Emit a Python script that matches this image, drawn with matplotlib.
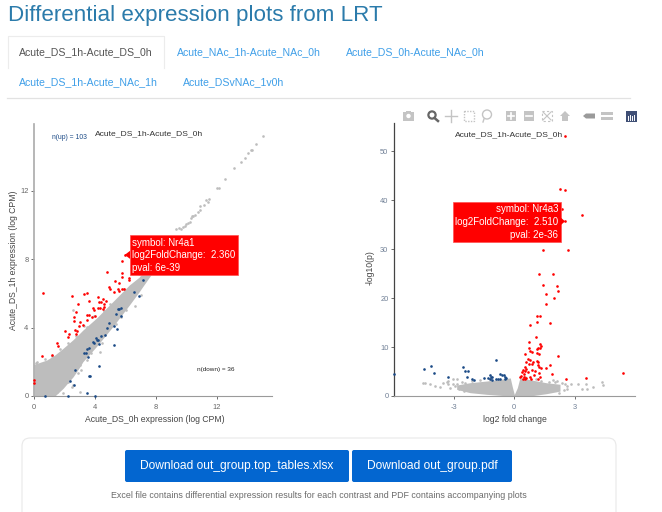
#!/usr/bin/env python3
# -*- coding: utf-8 -*-
"""
Differential expression page: MA-style scatter and volcano plot with
the tab bar, plot toolbar and download panel around them.
Output: out.png
"""

import matplotlib
matplotlib.use("Agg")
import matplotlib.pyplot as plt
from matplotlib.patches import Rectangle, FancyBboxPatch, Polygon, Circle

plt.rcParams['font.family'] = ['Liberation Sans', 'DejaVu Sans']
plt.rcParams['axes.unicode_minus'] = False

FIG_W, FIG_H = 662, 512

PAGE_TITLE = "Differential expression plots from LRT"
PLOT_TITLE = "Acute_DS_1h-Acute_DS_0h"
TABS = ["Acute_DS_1h-Acute_DS_0h", "Acute_NAc_1h-Acute_NAc_0h", "Acute_DS_0h-Acute_NAc_0h",
        "Acute_DS_1h-Acute_NAc_1h", "Acute_DSvNAc_1v0h"]

# expression scatter: dense cloud outline
cloud_x = [0.0, 0.83, 1.37, 1.91, 2.57, 3.0, 3.2, 4.09, 5.17, 6.26, 6.9, 7.13, 8.0, 9.2]
cloud_low = [0.0, 0.0, 0.0, 0.45, 1.13, 1.7, 2.0, 2.89, 4.06, 5.33, 6.1, 6.4, 7.5, 9.05]
cloud_high = [1.85, 2.1, 2.4, 2.79, 3.3, 3.67, 3.85, 4.55, 5.52, 6.5, 6.95, 7.25, 8.2, 9.4]

# expression scatter: grey genes outside the dense cloud
scatter_grey_x = [9.32, 9.5, 9.65, 9.75, 9.87, 9.98, 10.1, 10.2, 10.3, 10.37, 10.45, 10.55, 10.77, 10.85,
                  10.9, 11.17, 11.3, 11.4, 11.47,
                  12.0, 12.1, 12.5, 13.14, 13.57, 13.8, 14.0, 14.2, 14.3, 14.55, 15.0,
                  2.57, 2.89, 3.1, 3.76, 4.3, 5.6, 5.7, 2.57, 0.72, 1.91, 3.04, 2.46, 0.5, 2.13,
                  3.0, 3.45, 0.2, 1.2, 1.7, 2.25, 2.75, 3.5, 4.6, 5.0, 5.9, 6.6, 7.0, 1.5, 2.2,
                  3.3, 3.95, 4.45, 5.35, 6.05, 0.1, 7.3, 6.85]
scatter_grey_y = [9.79, 9.8, 9.79, 9.9, 9.94, 10.06, 10.1, 10.2, 10.38, 10.5, 10.55, 10.6, 10.76, 10.88,
                  11.1, 11.17, 11.46, 11.35, 11.5,
                  12.15, 12.15, 12.67, 13.3, 13.67, 13.9, 14.2, 14.4, 14.4, 14.74, 15.2,
                  0.64, 1.33, 1.52, 2.5, 2.6, 4.84, 4.64, 5.0, 2.15, 0.16, 0.21, 0.55, 1.81, 1.03,
                  1.81, 2.1, 2.0, 2.35, 2.75, 3.1, 3.5, 4.05, 4.95, 5.4, 6.25, 5.25, 5.9, 0.25, 0.8,
                  4.1, 4.65, 3.1, 4.2, 5.05, 1.95, 7.3, 7.15]

scatter_up_x = [0.59, 2.52, 3.3, 3.48, 2.91, 2.74, 2.63, 2.63, 2.04, 2.3, 2.2, 1.5, 1.6, 0.5, 1.2,
                2.67, 2.85, 2.76, 3.04, 2.98, 3.22, 3.46, 3.46, 3.63, 3.63, 3.87, 3.96, 4.2, 4.4,
                4.17, 4.3, 4.24, 4.5, 4.72, 4.61, 4.61, 4.78, 5.33, 5.54, 4.93, 4.98, 5.26, 5.5,
                5.59, 5.76, 5.91, 5.74, 5.74, 5.74, 5.95, 6.24, 6.24, 0.0, 0.0, 3.8, 4.0, 4.55]
scatter_up_y = [6.0, 5.87, 5.99, 6.03, 5.4, 4.9, 4.59, 4.39, 3.79, 3.63, 3.43, 3.08, 2.95, 2.32, 2.38,
                3.86, 3.82, 3.63, 4.31, 4.08, 4.16, 4.45, 4.74, 4.74, 5.54, 5.17, 5.03, 5.76, 5.52,
                5.13, 5.13, 5.48, 5.66, 5.58, 5.39, 5.19, 7.26, 6.71, 6.6, 6.36, 6.24, 6.09, 6.26,
                6.11, 6.24, 6.24, 7.18, 6.98, 7.92, 8.25, 6.89, 6.79, 0.94, 0.78, 4.6, 4.65, 5.1]

scatter_down_x = [7.15, 6.57, 6.89, 5.59, 5.37, 5.7, 4.93, 4.78, 5.26, 5.41, 5.26, 4.63, 4.39, 4.09,
                  4.28, 3.85, 3.59, 3.41, 3.52, 4.28, 3.59, 3.65, 2.67, 2.39, 2.63, 3.48, 4.02, 2.22,
                  0.7, 5.7, 4.2, 3.3, 5.5, 4.15, 3.95, 3.45]
scatter_down_y = [6.79, 6.07, 5.83, 5.11, 4.82, 4.66, 4.27, 4.0, 4.1, 3.92, 2.99, 3.57, 3.51, 3.38,
                  3.04, 3.18, 2.83, 2.54, 2.3, 1.78, 1.19, 1.19, 1.52, 0.9, 0.64, 0.2, 0.0, 0.0,
                  0.0, 5.15, 3.3, 2.5, 5.1, 3.25, 3.1, 2.75]

# volcano: dense lobes either side of zero
lobe_x = [-2.85, -2.19, -1.37, -0.71, -0.2, -0.1, 0.0, 0.15, 0.28, 0.94, 1.6, 2.26]
lobe_low = [1.36, 0.68, 0.34, 0.14, 0.0, 0.0, 0.0, 0.0, 0.0, 0.1, 0.48, 1.0]
lobe_high = [2.24, 2.72, 3.06, 3.4, 3.7, 1.9, 0.3, 1.7, 3.74, 3.2, 2.7, 2.4]

volcano_grey_x = [-4.53, -4.41, -4.17, -3.92, -3.67, -3.54, -3.26, -3.01, -2.82, -3.26, -3.18, -2.93,
                  -3.01, -2.82, -2.69, -2.6, -2.45, -2.1, -1.7, -1.2, -3.35, -2.75, -2.5,
                  1.89, 2.09, 2.5, 2.59, 2.78, 3.16, 3.33, 3.57, 3.6, 3.87, 4.32, 4.4,
                  1.3, 1.7, 2.0, 2.35, 2.45, 1.05, 0.55, 2.2, 2.6]
volcano_grey_y = [2.59, 2.72, 2.52, 2.04, 1.84, 2.72, 3.06, 3.4, 3.4, 2.38, 1.7, 2.04,
                  2.52, 2.38, 1.7, 2.9, 2.6, 3.05, 3.3, 3.45, 2.9, 1.35, 1.1,
                  3.2, 3.06, 2.52, 2.04, 2.38, 2.38, 1.36, 2.52, 1.5, 1.9, 2.93, 2.18,
                  3.15, 2.95, 2.85, 2.65, 1.2, 3.4, 3.85, 0.7, 1.5]

volcano_up_x = [2.49, 2.27, 2.49, 2.36, 3.34, 2.51, 1.42, 2.64, 1.2, 1.89, 1.4, 2.11, 2.16, 1.55, 1.98,
                1.55, 1.12, 1.29, 1.1, 1.75, 0.76, 1.05, 0.71, 1.27, 1.33, 0.74, 1.29, 1.15, 1.1, 0.77,
                0.86, 1.1, 1.22, 0.54, 2.17, 0.68, 0.76, 1.1, 0.59, 0.92, 1.19, 0.87, 1.75, 0.71, 1.15,
                1.24, 0.54, 1.58, 1.3, 0.43, 0.56, 0.86, 1.02, 0.53, 0.36, 0.68, 1.2, 1.85, 0.49, 0.99,
                0.33, 0.46, 0.76, 1.25, 2.55, 3.53, 5.37, 0.3, 0.59, 0.84, 1.17, 0.43, 0.54]
volcano_up_y = [53.2, 42.3, 42.1, 38.2, 36.9, 35.7, 29.8, 29.8, 24.85, 24.9, 22.6, 22.4, 21.4, 20.8, 20.1,
                18.9, 16.45, 16.45, 15.15, 14.95, 14.5, 12.15, 11.1, 10.65, 10.2, 9.9, 9.9, 9.76, 9.56, 9.15,
                9.08, 8.87, 8.53, 8.53, 8.26, 7.5, 7.37, 7.17, 7.03, 6.96, 6.89, 6.55, 6.4, 6.48, 6.28,
                6.0, 6.0, 5.67, 5.67, 5.32, 5.46, 5.32, 5.19, 5.05, 4.85, 4.85, 4.64, 4.44, 4.44, 4.3,
                4.16, 3.96, 3.96, 3.82, 3.48, 3.69, 4.78, 3.89, 3.62, 3.55, 3.55, 3.48, 3.48]

volcano_down_x = [-0.89, -4.14, -4.45, -3.97, -5.93, -3.29, -2.54, -2.45, -2.29, -2.34, -2.09, -1.99, -1.52,
                  -1.3, -1.22, -1.14, -1.09, -1.19, -1.09, -0.92, -0.81, -0.69, -0.72, -0.63, -0.53,
                  -0.44, -0.4, -0.44]
volcano_down_y = [7.37, 6.14, 5.6, 4.64, 4.5, 3.82, 5.87, 5.12, 5.12, 3.89, 3.48, 3.34, 3.75,
                  3.69, 4.23, 3.96, 3.82, 3.55, 3.34, 3.41, 3.48, 3.55, 4.5, 4.23, 4.3,
                  3.96, 3.69, 3.55]

scatter_xticks = [0, 4, 8, 12]
scatter_yticks = [0, 4, 8, 12]
volcano_xticks = [-3, 0, 3]
volcano_yticks = [0, 10, 20, 30, 40, 50]

GREY = '#bdbdbd'
RED = '#ff0000'
NAVY = '#1b4a86'
POINT = 3.6


def pixel_axes(left, top, right, bottom, zorder=1):
    """Axes placed by pixel edges, y measured from the top of the page"""
    return plt.gcf().add_axes([left / FIG_W, (FIG_H - bottom) / FIG_H,
                               (right - left) / FIG_W, (bottom - top) / FIG_H], zorder=zorder)


def px(size):
    """Font size in points for a height given in pixels"""
    return size * 0.72


def style_axes(ax, left_colour, tick_colour):
    ax.spines['top'].set_visible(False)
    ax.spines['right'].set_visible(False)
    ax.spines['left'].set_color(left_colour)
    ax.spines['bottom'].set_color('#9a9a9a')
    ax.spines['bottom'].set_linewidth(0.8)
    ax.tick_params(length=2, width=0.6, color='#555555', labelcolor=tick_colour,
                   labelsize=px(7.5), pad=2)
    ax.patch.set_alpha(0)


def plot_scatter(ax):
    ax.fill_between(cloud_x, cloud_low, cloud_high, color=GREY, lw=0)
    ax.scatter(scatter_grey_x, scatter_grey_y, s=POINT, c=GREY, lw=0, clip_on=False)
    ax.scatter(scatter_up_x, scatter_up_y, s=POINT, c=RED, lw=0, clip_on=False, zorder=3)
    ax.scatter(scatter_down_x, scatter_down_y, s=POINT, c=NAVY, lw=0, clip_on=False, zorder=3)
    ax.set_xlim(0, 15.6)
    ax.set_ylim(0, 15.9)
    ax.set_xticks(scatter_xticks)
    ax.set_yticks(scatter_yticks)
    style_axes(ax, '#aaaaaa', '#666666')
    ax.spines['left'].set_linewidth(1.2)
    ax.tick_params(axis='x', pad=4)
    ax.set_xlabel("Acute_DS_0h expression (log CPM)", fontsize=px(8.7), color='#444444', va='center')
    ax.set_ylabel("Acute_DS_1h expression (log CPM)", fontsize=px(8.7), color='#444444', va='center')
    ax.xaxis.set_label_coords(0.506, -0.085)
    ax.yaxis.set_label_coords(-0.088, 0.5)
    ax.text(0.483, 0.963, PLOT_TITLE, transform=ax.transAxes, ha='center', va='center',
            fontsize=px(8.5), color='#333333')
    ax.text(1.15, 15.1, "n(up) = 103", fontsize=px(6.8), color='#1b4a86', va='center')
    ax.text(10.7, 1.57, "n(down) = 36", fontsize=px(6.4), color='#222222', va='center')


def plot_volcano(ax):
    ax.fill_between(lobe_x, lobe_low, lobe_high, color=GREY, lw=0)
    ax.scatter(volcano_grey_x, volcano_grey_y, s=POINT, c=GREY, lw=0, clip_on=False)
    ax.scatter(volcano_up_x, volcano_up_y, s=POINT, c=RED, lw=0, clip_on=False, zorder=3)
    ax.scatter(volcano_down_x, volcano_down_y, s=POINT, c=NAVY, lw=0, clip_on=False, zorder=3)
    ax.set_xlim(-5.95, 5.97)
    ax.set_ylim(0, 55.8)
    ax.set_xticks(volcano_xticks)
    ax.set_yticks(volcano_yticks)
    style_axes(ax, '#444444', '#6f7f95')
    ax.spines['left'].set_linewidth(0.9)
    ax.tick_params(axis='x', pad=4)
    ax.set_xlabel("log2 fold change", fontsize=px(8.7), color='#444444', va='center')
    ax.set_ylabel("-log10(p)", fontsize=px(8.7), color='#444444', va='center')
    ax.xaxis.set_label_coords(0.5, -0.085)
    ax.yaxis.set_label_coords(-0.1, 0.47)
    ax.text(0.477, 0.958, PLOT_TITLE, transform=ax.transAxes, ha='center', va='center',
            fontsize=px(8.5), color='#333333')


def hover_label(page, ax, x, y, lines, box, to_right):
    """Red hover box with a small pointer at the data point"""
    anchor = ax.transData.transform((x, y))
    ax_x, ax_y = anchor[0] * FIG_W / plt.gcf().bbox.width, FIG_H - anchor[1] * FIG_H / plt.gcf().bbox.height
    left, top, right, bottom = box
    page.add_patch(Rectangle((left, top), right - left, bottom - top, fc=RED, ec='#ff5050', lw=0.5))
    edge = right if to_right else left
    page.add_patch(Polygon([(ax_x, ax_y), (edge, ax_y - 4), (edge, ax_y + 4)], fc=RED, ec='none'))
    for i, line in enumerate(lines):
        tx = right - 2 if to_right else left + 2
        page.text(tx, top + 7.5 + i * 12.7, line, ha='right' if to_right else 'left', va='center',
                  color='white', fontsize=px(9.8))


def draw_toolbar(page):
    light = '#c4c4c4'
    y = 116
    # camera
    page.add_patch(Rectangle((403, 112), 11, 8.5, fc=light, ec='none'))
    page.add_patch(Rectangle((406, 110.5), 5, 2, fc=light, ec='none'))
    page.add_patch(Circle((408.5, 116), 2.2, fc='white', ec='none'))
    # zoom, active
    page.add_patch(Circle((432, 115), 3.6, fc='white', ec='#666666', lw=1.6))
    page.plot([434.5, 438], [118, 121], color='#666666', lw=1.8)
    # pan
    page.plot([445, 457], [y, y], color=light, lw=1)
    page.plot([451, 451], [110, 122], color=light, lw=1)
    # box select
    page.add_patch(Rectangle((464, 111), 10, 10, fc='none', ec=light, lw=1, ls=(0, (1, 1))))
    # lasso
    page.add_patch(Circle((487, 114.5), 4.5, fc='none', ec=light, lw=1))
    page.plot([484, 483], [119, 122], color=light, lw=1)
    # zoom in and out
    page.add_patch(Rectangle((506, 111), 10, 10, fc=light, ec='none'))
    page.plot([508, 514], [116, 116], color='white', lw=1.2)
    page.plot([511, 511], [113, 119], color='white', lw=1.2)
    page.add_patch(Rectangle((524, 111), 10, 10, fc=light, ec='none'))
    page.plot([526, 532], [116, 116], color='white', lw=1.2)
    # autoscale
    page.add_patch(Rectangle((542, 111), 10, 10, fc='none', ec=light, lw=0.8, ls=(0, (2, 2))))
    page.plot([543, 551], [112, 120], color=light, lw=0.8)
    page.plot([543, 551], [120, 112], color=light, lw=0.8)
    # home
    page.add_patch(Polygon([(560, 116), (565, 111), (570, 116), (568, 116), (568, 121),
                            (562, 121), (562, 116)], fc=light, ec='none'))
    # hover tags
    page.add_patch(Polygon([(583, 116), (586, 113.5), (595, 113.5), (595, 118.5), (586, 118.5)],
                           fc='#9a9a9a', ec='none'))
    page.add_patch(Rectangle((601, 111.5), 12, 3.5, fc=light, ec='none'))
    page.add_patch(Rectangle((601, 116.5), 12, 3.5, fc=light, ec='none'))
    # logo
    page.add_patch(Rectangle((625.5, 110.5), 11, 11, fc='#3f4f75', ec='none'))
    for i in range(4):
        page.plot([627.5 + i * 2.3] * 2, [119.5, 115.5 - (i % 2)], color='white', lw=0.7)


def draw_page(page):
    page.set_xlim(0, FIG_W)
    page.set_ylim(FIG_H, 0)
    page.axis('off')

    page.text(8, 15.5, PAGE_TITLE, fontsize=px(22.4), color='#2b7bab', va='center')

    # tab bar
    page.plot([7, 630], [97.5, 97.5], color='#e2e2e2', lw=0.9)
    page.plot([7.5, 7.5, 163.5, 163.5], [68, 36, 36, 68], color='#ececec', lw=0.8)
    tab_pos = [(19, 52), (177, 52), (346, 52), (19, 82), (183, 82)]
    for i, (name, pos) in enumerate(zip(TABS, tab_pos)):
        page.text(pos[0], pos[1], name, fontsize=px(10.5), va='center',
                  color='#555555' if i == 0 else '#3f9fe8')

    # download panel
    page.add_patch(FancyBboxPatch((22, 438), 594, 100, boxstyle="round,pad=0,rounding_size=8",
                                  fc='white', ec='#e8e8e8', lw=0.8))
    for left, right, label in [(125, 349, "Download out_group.top_tables.xlsx"),
                               (352, 512, "Download out_group.pdf")]:
        page.add_patch(FancyBboxPatch((left, 450), right - left, 32, boxstyle="round,pad=0,rounding_size=2",
                                      fc='#0366d0', ec='none'))
        page.text((left + right) / 2, 466, label, fontsize=px(12), color='white',
                  ha='center', va='center')
    page.text(319, 496, "Excel file contains differential expression results for each contrast and PDF contains accompanying plots",
              fontsize=px(8.9), color='#6a6a6a', ha='center', va='center')


def main():
    fig = plt.figure(figsize=(FIG_W / 100, FIG_H / 100), dpi=100, facecolor='white')

    page = fig.add_axes([0, 0, 1, 1], zorder=0)
    draw_page(page)

    scatter_ax = pixel_axes(34, 124, 272, 396, zorder=1)
    plot_scatter(scatter_ax)

    volcano_ax = pixel_axes(394, 123, 635, 396, zorder=1)
    plot_volcano(volcano_ax)

    # toolbar and hover labels sit above the plots
    overlay = fig.add_axes([0, 0, 1, 1], zorder=5)
    overlay.set_xlim(0, FIG_W)
    overlay.set_ylim(FIG_H, 0)
    overlay.axis('off')
    draw_toolbar(overlay)
    hover_label(overlay, scatter_ax, 5.95, 8.25,
                ["symbol: Nr4a1", "log2FoldChange:  2.360", "pval: 6e-39"], (130, 235, 237.5, 275), False)
    hover_label(overlay, volcano_ax, 2.51, 35.7,
                ["symbol: Nr4a3", "log2FoldChange:  2.510", "pval: 2e-36"], (452.5, 202, 560.5, 241.7), True)

    fig.savefig('out.png', dpi=100)


if __name__ == "__main__":
    main()
